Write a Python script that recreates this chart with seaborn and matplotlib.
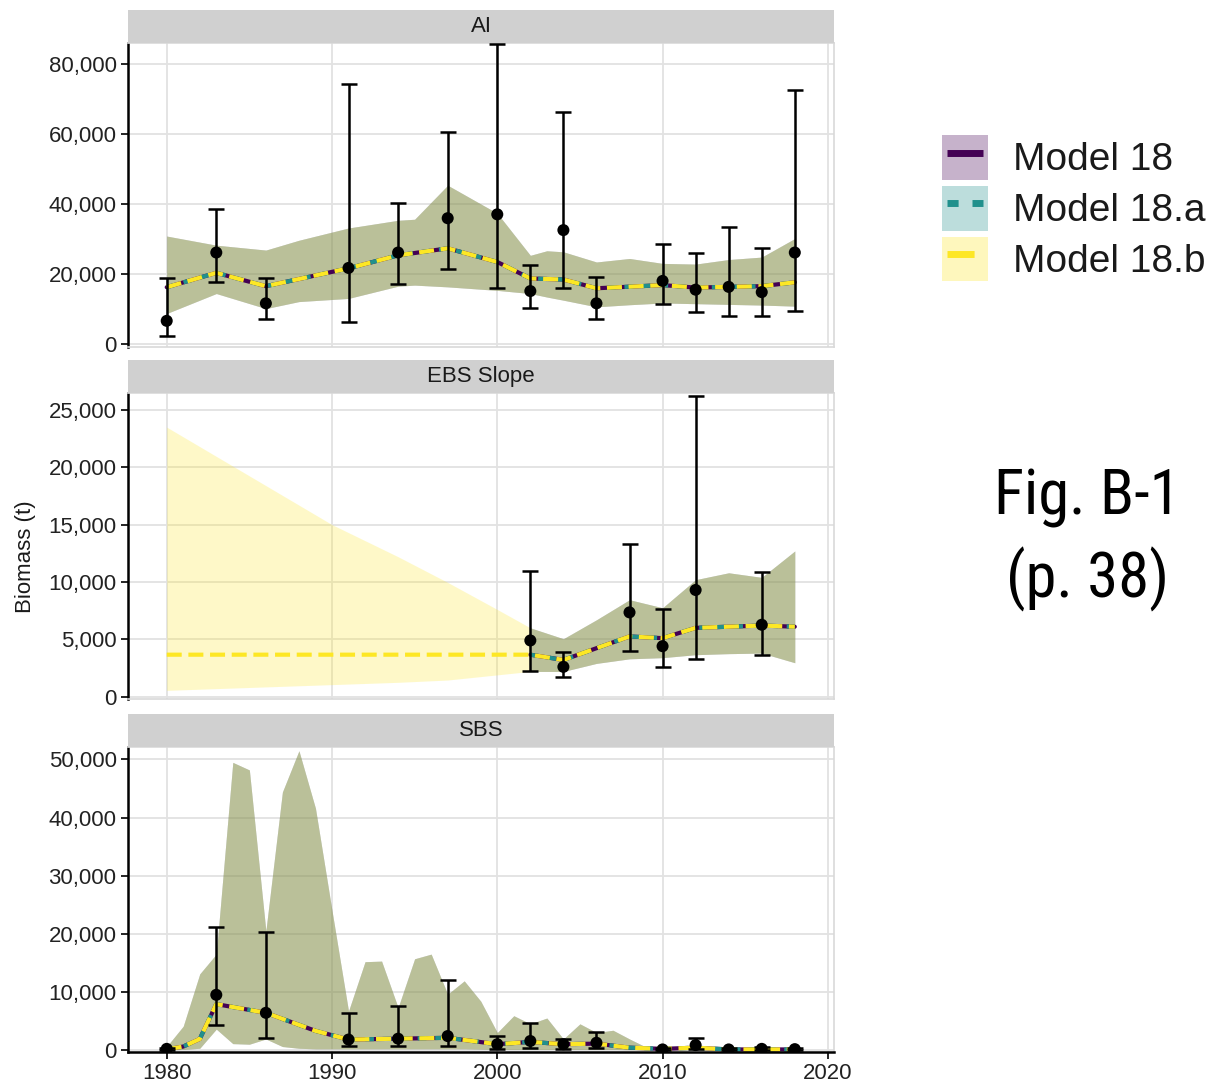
import numpy as np
import pandas as pd
import matplotlib
matplotlib.use("Agg")
import matplotlib.pyplot as plt
import seaborn as sns
from matplotlib.ticker import FuncFormatter
from matplotlib.patches import Patch
from matplotlib.lines import Line2D
from matplotlib.legend_handler import HandlerTuple, HandlerLine2D
from matplotlib import font_manager

models = ["Model 18", "Model 18.a", "Model 18.b"]
model_colors = ["#440154", "#21908C", "#FDE725"]

# AI survey and fit
ai_years = [1980, 1983, 1986, 1991, 1994, 1997, 2000, 2002, 2004, 2006, 2010, 2012, 2014, 2016, 2018]
ai_obs = [6700, 26200, 11700, 21800, 26200, 36000, 37100, 15200, 32600, 11700, 18100, 15600, 16400, 14900, 26200]
ai_lo = [2500, 17700, 7100, 6300, 17100, 21400, 16000, 10400, 16000, 7100, 11500, 9300, 8000, 8200, 9400]
ai_hi = [18800, 38600, 18900, 74300, 40300, 60500, 85600, 22600, 66300, 19100, 28500, 26000, 33400, 27400, 72700]
ai_fit = [16300, 20400, 16600, 21700, 25400, 27400, 23500, 18800, 18500, 16000, 16900, 16200, 16400, 16600, 17700]
ai_band_years = [1980, 1983, 1986, 1988, 1991, 1994, 1995, 1997, 2000, 2002, 2003, 2004, 2006, 2008, 2010, 2012, 2014, 2016, 2018]
ai_band_hi = [30900, 28300, 26900, 29700, 33200, 35400, 35700, 45400, 37400, 25400, 26700, 26400, 23500, 24500, 23100, 22900, 24200, 24900, 30200]
ai_band_lo = [8800, 14500, 10200, 12200, 13100, 16600, 16900, 16400, 15400, 14500, 13500, 12600, 10700, 11300, 11800, 11600, 11400, 11200, 10900]

# EBS Slope survey and fit
ebs_years = [2002, 2004, 2008, 2010, 2012, 2016]
ebs_obs = [4900, 2600, 7350, 4400, 9300, 6270]
ebs_lo = [2200, 1700, 4000, 2600, 3300, 3600]
ebs_hi = [11000, 3900, 13350, 7600, 26200, 10900]
ebs_fit_years = [2002, 2004, 2008, 2010, 2012, 2014, 2016, 2018]
ebs_fit = [3660, 3200, 5250, 5100, 6000, 6100, 6200, 6100]
ebs_band_years = [2002, 2004, 2006, 2008, 2010, 2012, 2014, 2016, 2018]
ebs_band_hi = [6000, 5050, 6700, 8450, 7750, 10200, 10800, 10400, 12700]
ebs_band_lo = [2200, 2200, 2900, 3300, 3400, 3660, 3750, 3800, 2960]
# Model 18.b also estimates the early years
ebs_b_early_years = [1980, 1984, 1990, 1994, 1997, 2000]
ebs_b_early_fit = [3660, 3660, 3660, 3660, 3660, 3660]
ebs_b_early_hi = [23500, 20100, 15000, 12200, 9960, 7600]
ebs_b_early_lo = [550, 750, 1050, 1250, 1450, 1900]

# SBS survey and fit
sbs_years = [1980, 1983, 1986, 1991, 1994, 1997, 2000, 2002, 2004, 2006, 2010, 2012, 2014, 2016, 2018]
sbs_obs = [200, 9500, 6400, 1800, 1950, 2400, 1000, 1550, 1000, 1250, 100, 850, 100, 200, 150]
sbs_lo = [50, 4300, 2100, 700, 700, 700, 200, 400, 200, 400, 30, 200, 30, 60, 40]
sbs_hi = [400, 21200, 20300, 6300, 7600, 12000, 2400, 4700, 1900, 3100, 300, 2100, 300, 500, 400]
sbs_fit_years = [1980, 1981, 1982, 1983, 1986, 1989, 1991, 1994, 1997, 2000, 2002, 2004, 2006, 2008, 2010, 2012, 2014, 2018]
sbs_fit = [100, 600, 1900, 7900, 6400, 3300, 1800, 1950, 2100, 1000, 1400, 1000, 1100, 400, 200, 400, 100, 100]
sbs_band_years = [1980, 1981, 1982, 1983, 1984, 1985, 1986, 1987, 1988, 1989,
                  1990, 1991, 1992, 1993, 1994, 1995, 1996, 1997, 1998, 1999,
                  2000, 2001, 2002, 2003, 2004, 2005, 2006, 2007, 2008, 2009,
                  2010, 2012, 2014, 2016, 2018]
sbs_band_hi = [600, 4100, 13100, 16500, 49500, 48200, 20500, 44400, 51500, 41600,
               24000, 6700, 15200, 15300, 7300, 15700, 16500, 9600, 11900, 8400,
               3000, 5900, 4500, 5500, 1900, 4500, 3000, 3400, 1900, 500,
               200, 600, 300, 300, 300]
sbs_band_lo = [0, 100, 300, 3600, 1100, 1000, 1900, 600, 300, 200,
               200, 200, 200, 200, 200, 200, 200, 200, 200, 150,
               100, 100, 100, 100, 100, 100, 100, 100, 50, 30,
               30, 30, 30, 30, 30]

sns.set_theme(style="whitegrid")
plt.rcParams["font.family"] = ["Liberation Sans", "DejaVu Sans"]

available = {f.name for f in font_manager.fontManager.ttflist}
narrow = next((f for f in ["Roboto Condensed", "Liberation Sans Narrow", "DejaVu Sans Condensed"]
               if f in available), "Liberation Sans")

W, H = 1215, 1083
fig = plt.figure(figsize=(W / 100, H / 100), dpi=100)
fig.patch.set_facecolor("white")

def frac(x0, y_top, x1, y_bot):
    return [x0 / W, 1 - y_bot / H, (x1 - x0) / W, (y_bot - y_top) / H]

band_alpha = 0.25
line_w = 3.0
line_dashes = [None, (2.1, 2.1), (3.6, 1.6)]

def draw_panel(ax, survey, fits, bands):
    yrs, obs, lo, hi = survey
    for (by, blo, bhi), c in zip(bands, model_colors):
        ax.fill_between(by, blo, bhi, color=c, alpha=band_alpha, lw=0, zorder=1)
    for (fy, fv), c, d in zip(fits, model_colors, line_dashes):
        sns.lineplot(x=fy, y=fv, color=c, lw=line_w, ax=ax, legend=False, zorder=2)
        if d is not None:
            ax.lines[-1].set_dashes(d)
    obs = np.array(obs)
    ax.errorbar(yrs, obs, yerr=[obs - np.array(lo), np.array(hi) - obs], fmt="none",
                ecolor="black", elinewidth=1.8, capsize=5.5, capthick=1.8, zorder=3)
    sns.scatterplot(x=yrs, y=obs, color="black", s=75, edgecolor="none", ax=ax, zorder=4)

panels = [
    ("AI", 42.7, 346.7, (-680, 86100), np.arange(0, 80001, 20000)),
    ("EBS Slope", 393.3, 699.3, (-230, 26450), np.arange(0, 25001, 5000)),
    ("SBS", 746.7, 1051.7, (-290, 52200), np.arange(0, 50001, 10000)),
]

ai_fits = [(ai_years, ai_fit)] * 3
ai_bands = [(ai_band_years, ai_band_lo, ai_band_hi)] * 3
ebs_fits = [(ebs_fit_years, ebs_fit), (ebs_fit_years, ebs_fit),
            (ebs_b_early_years + ebs_fit_years, ebs_b_early_fit + ebs_fit)]
ebs_bands = [(ebs_band_years, ebs_band_lo, ebs_band_hi), (ebs_band_years, ebs_band_lo, ebs_band_hi),
             (ebs_b_early_years + ebs_band_years, ebs_b_early_lo + ebs_band_lo, ebs_b_early_hi + ebs_band_hi)]
sbs_fits = [(sbs_fit_years, sbs_fit)] * 3
sbs_bands = [(sbs_band_years, sbs_band_lo, sbs_band_hi)] * 3

data = [
    ((ai_years, ai_obs, ai_lo, ai_hi), ai_fits, ai_bands),
    ((ebs_years, ebs_obs, ebs_lo, ebs_hi), ebs_fits, ebs_bands),
    ((sbs_years, sbs_obs, sbs_lo, sbs_hi), sbs_fits, sbs_bands),
]

x0, x1 = 127.7, 834.3
comma = FuncFormatter(lambda v, p: f"{int(v):,}")
for i, ((title, ytop, ybot, ylim, yticks), (survey, fits, bands)) in enumerate(zip(panels, data)):
    ax = fig.add_axes(frac(x0, ytop, x1, ybot))
    draw_panel(ax, survey, fits, bands)
    ax.set_xlim(1977.64, 2020.39)
    ax.set_ylim(*ylim)
    ax.set_yticks(yticks)
    ax.set_xticks([1980, 1990, 2000, 2010, 2020])
    ax.yaxis.set_major_formatter(comma)
    ax.grid(True, color="#E2E2E2", lw=1.3)
    ax.set_axisbelow(True)
    ax.set_xlabel("")
    ax.set_ylabel("")
    for s in ["top", "right", "bottom"]:
        ax.spines[s].set_color("#D9D9D9")
        ax.spines[s].set_linewidth(1.2)
    ax.spines["left"].set_color("black")
    ax.spines["left"].set_linewidth(1.8)
    ax.tick_params(axis="y", length=5, width=1.2, color="black", labelsize=16,
                   labelcolor="#222222", pad=3, left=True)
    if i == 2:
        ax.spines["bottom"].set_color("black")
        ax.spines["bottom"].set_linewidth(1.8)
        ax.tick_params(axis="x", length=5, width=1.2, color="black", labelsize=16,
                       labelcolor="#222222", pad=3, bottom=True)
    else:
        ax.tick_params(axis="x", length=0, labelbottom=False)
    # facet strip
    sax = fig.add_axes(frac(x0, ytop - 33, x1, ytop))
    sax.set_facecolor("#D0D0D0")
    sax.set_xticks([])
    sax.set_yticks([])
    for s in sax.spines.values():
        s.set_visible(False)
    sax.text(0.5, 0.5, title, ha="center", va="center", fontsize=16, color="#1A1A1A",
             transform=sax.transAxes)

fig.text(25 / W, 1 - 557 / H, "Biomass (t)", rotation=90, ha="center", va="center",
         fontsize=16, color="#1A1A1A")

handles = []
leg_dashes = [None, (1.6, 2.0), (3.9, 1.7)]
for c, d in zip(model_colors, leg_dashes):
    ln = Line2D([], [], color=c, lw=5, solid_capstyle="butt", dash_capstyle="butt")
    if d is not None:
        ln.set_dashes(d)
    handles.append((Patch(facecolor=c, alpha=0.3, lw=0), ln))
fig.legend(handles, models,
           handler_map={tuple: HandlerTuple(ndivide=1, pad=0),
                        Line2D: HandlerLine2D(numpoints=2, marker_pad=0.12)},
           loc="upper left", bbox_to_anchor=(942 / W, 1 - 135 / H), frameon=False,
           fontsize=28, handlelength=1.18, handleheight=1.4, labelspacing=0.15,
           handletextpad=0.65, borderpad=0, borderaxespad=0, labelcolor="#1A1A1A")

fig.text(1087 / W, 1 - 515 / H, "Fig. B-1", ha="center", va="baseline", fontsize=45,
         family=[narrow, "DejaVu Sans"], fontstretch="condensed", color="black")
fig.text(1087 / W, 1 - 597 / H, "(p. 38)", ha="center", va="baseline", fontsize=45,
         family=[narrow, "DejaVu Sans"], fontstretch="condensed", color="black")

fig.savefig("out.png", dpi=100)
